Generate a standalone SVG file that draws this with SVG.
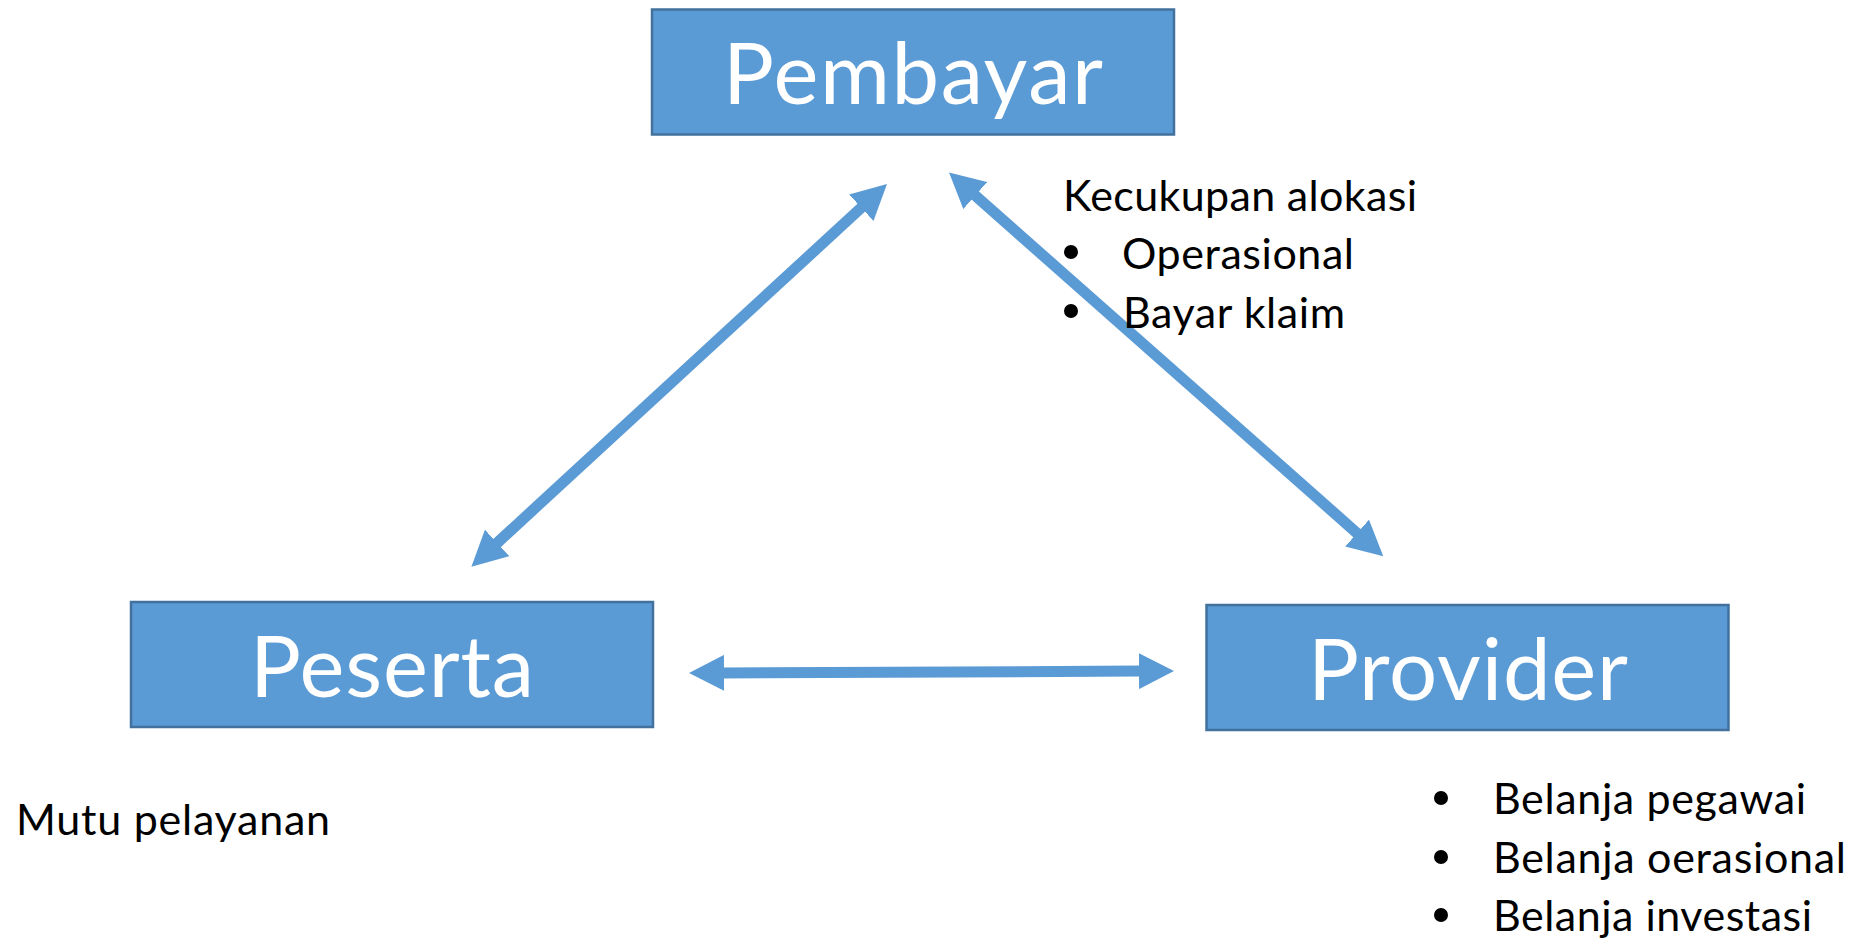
<svg xmlns="http://www.w3.org/2000/svg" width="1858" height="940" viewBox="0 0 1858 940">
<style>
.box{fill:#5B9BD5;stroke:#41719C;stroke-width:2.5}
.lbl{font-family:Lato,"Open Sans","Liberation Sans",sans-serif;font-size:85px;fill:#FFFFFF;text-anchor:middle}
.txt{font-family:Lato,"Open Sans","Liberation Sans",sans-serif;font-size:43px;fill:#000000}
.bul{fill:#000000}
.con{stroke:#5B9BD5;stroke-width:11;fill:none;marker-start:url(#ah);marker-end:url(#ah)}
</style>
<defs>
<marker id="ah" viewBox="0 0 36 36" refX="1" refY="18" markerWidth="36" markerHeight="36" markerUnits="userSpaceOnUse" orient="auto-start-reverse">
<path d="M0,0 L35,18 L0,36 z" fill="#5B9BD5"/>
</marker>
</defs>
<rect width="1858" height="940" fill="#FFFFFF"/>
<g id="connectors">
<line class="con" x1="496.4" y1="543.6" x2="862" y2="207"/>
<line class="con" x1="974.5" y1="194.9" x2="1357.8" y2="533.8"/>
<line class="con" x1="723" y1="672.9" x2="1140" y2="671.1"/>
</g>
<g id="pembayar">
<rect class="box" x="652" y="9.5" width="522" height="125"/>
<text class="lbl" x="913" y="104" textLength="380">Pembayar</text>
</g>
<g id="peserta">
<rect class="box" x="131" y="602" width="522" height="125"/>
<text class="lbl" x="392" y="697" textLength="284">Peserta</text>
</g>
<g id="provider">
<rect class="box" x="1206.5" y="605" width="522" height="125"/>
<text class="lbl" x="1468" y="700" textLength="320">Provider</text>
</g>
<g id="note-pembayar">
<text class="txt" x="1063" y="211" textLength="354">Kecukupan alokasi</text>
<circle class="bul" cx="1071" cy="252" r="7"/>
<text class="txt" x="1122" y="269" textLength="232">Operasional</text>
<circle class="bul" cx="1071" cy="311" r="7"/>
<text class="txt" x="1123" y="328" textLength="222">Bayar klaim</text>
</g>
<g id="note-peserta">
<text class="txt" x="16" y="835" textLength="314">Mutu pelayanan</text>
</g>
<g id="note-provider">
<circle class="bul" cx="1441" cy="798" r="7"/>
<text class="txt" x="1493" y="814" textLength="313">Belanja pegawai</text>
<circle class="bul" cx="1441" cy="857" r="7"/>
<text class="txt" x="1493" y="873" textLength="353">Belanja oerasional</text>
<circle class="bul" cx="1441" cy="915" r="7"/>
<text class="txt" x="1493" y="931" textLength="319">Belanja investasi</text>
</g>
</svg>
